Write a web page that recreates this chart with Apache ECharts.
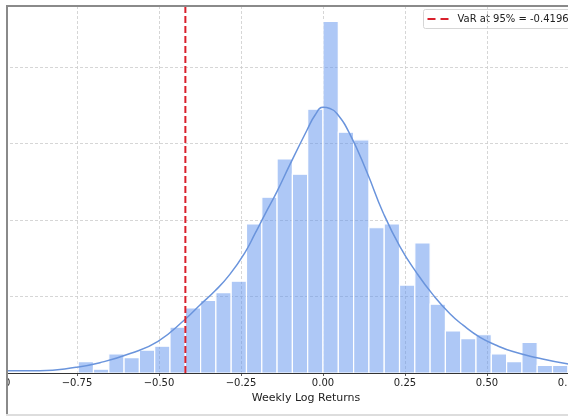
<!DOCTYPE html>
<html>
<head>
<meta charset="utf-8">
<script src="https://cdn.jsdelivr.net/npm/echarts@6/dist/echarts.min.js"></script>
<style>
  html, body { margin: 0; padding: 0; background: #fff; }
  #chart { width: 568px; height: 416px; }
</style>
</head>
<body>
<div id="chart"></div>
<script>
// Histogram bin edges (weekly log return) and counts per bin
const binEdges = [
  -0.7464, -0.6998, -0.6531, -0.6065, -0.5598, -0.5132, -0.4665, -0.4199,
  -0.3732, -0.3266, -0.2799, -0.2333, -0.1866, -0.1400, -0.0933, -0.0467,
   0.0000,  0.0467,  0.0933,  0.1400,  0.1866,  0.2333,  0.2799,  0.3266,
   0.3732,  0.4199,  0.4665,  0.5132,  0.5598,  0.6065,  0.6531,  0.6998,
   0.7464
];
const binCounts = [
  3, 1, 5, 4, 6, 7, 12, 17, 19, 21, 24, 39, 46, 56, 52, 69,
  92, 63, 61, 38, 39, 23, 34, 18, 11, 9, 10, 5, 3, 8, 2, 2
];

// Kernel density estimate, scaled to counts
const kdeX = [
  -0.963, -0.863, -0.753, -0.680, -0.588, -0.503, -0.421, -0.375,
  -0.329, -0.284, -0.238, -0.207, -0.177, -0.140, -0.101, -0.049,
  -0.024, 0.000, 0.021, 0.043, 0.082, 0.134, 0.183, 0.235,
  0.287, 0.335, 0.387, 0.427, 0.479, 0.530, 0.579, 0.652, 0.744, 0.810
];
const kdeY = [
  0.6, 0.6, 1.5, 2.7, 5.1, 8.3, 14.0, 17.8,
  21.5, 25.8, 31.5, 36.5, 41.5, 47.5, 54.5, 63.5,
  67.5, 69.5, 69.2, 67.8, 62.5, 52.5, 42.0, 33.0,
  26.0, 20.5, 15.5, 12.5, 9.3, 7.2, 5.6, 4.0, 2.4, 1.7
];

// Value at risk threshold
const varLevel = -0.4196;
const varLabel = 'VaR at 95% = -0.4196';

// Axis settings
const xMin = -1.0, xMax = 1.0, xStep = 0.25;
const yMin = 0, yMax = 96, yStep = 20;
const xTitle = 'Weekly Log Returns';

const chart = echarts.init(document.getElementById('chart'), null, { renderer: 'canvas' });

const histData = binCounts.map((c, i) => [binEdges[i], binEdges[i + 1], c]);
const kdeData = kdeX.map((x, i) => [x, kdeY[i]]);

const gridDash = { type: [3, 2], color: '#cccccc', width: 0.8 };

chart.setOption({
  animation: false,
  backgroundColor: '#ffffff',
  grid: { left: -5, right: -83, top: 6, bottom: 43, outerBoundsMode: 'none', containLabel: false },
  xAxis: {
    type: 'value',
    min: xMin, max: xMax, interval: xStep,
    axisLine: { show: true, onZero: false, lineStyle: { color: '#333', width: 1 } },
    axisTick: { show: true, length: 3, lineStyle: { color: '#333', width: 0.8 } },
    axisLabel: {
      show: true, showMinLabel: true, showMaxLabel: true,
      color: '#222', fontFamily: 'DejaVu Sans', fontSize: 10, margin: 5,
      formatter: v => v.toFixed(2).replace('-', '\u2212')
    },
    splitLine: { show: true, lineStyle: gridDash }
  },
  yAxis: {
    type: 'value',
    min: yMin, max: yMax, interval: yStep,
    axisLine: { show: false },
    axisTick: { show: false },
    axisLabel: { show: false },
    splitLine: { show: true, lineStyle: gridDash }
  },
  series: [
    {
      type: 'custom',
      name: 'Histogram',
      data: histData,
      encode: { x: [0, 1], y: 2 },
      clip: true,
      z: 2,
      renderItem: function (params, api) {
        const top = api.coord([api.value(0), api.value(2)]);
        const base = api.coord([api.value(1), 0]);
        return {
          type: 'rect',
          shape: { x: top[0], y: top[1], width: base[0] - top[0], height: base[1] - top[1] },
          style: { fill: 'rgba(100,149,237,0.52)', stroke: '#ffffff', lineWidth: 1.2 }
        };
      }
    },
    {
      type: 'line',
      name: 'KDE',
      data: kdeData,
      smooth: 0.5,
      showSymbol: false,
      symbol: 'none',
      z: 4,
      lineStyle: { color: '#6a94dc', width: 1.5 }
    },
    {
      type: 'line',
      name: varLabel,
      data: [[varLevel, yMin], [varLevel, yMax]],
      showSymbol: false,
      symbol: 'none',
      z: 5,
      lineStyle: { color: '#d9202c', width: 2, type: [7, 3] }
    }
  ],
  graphic: [
    // legend box
    {
      type: 'group', left: 423, top: 9, z: 20,
      children: [
        { type: 'rect', shape: { x: 0, y: 0, width: 170, height: 19, r: 2 },
          style: { fill: 'rgba(255,255,255,0.9)', stroke: '#d6d6d6', lineWidth: 1 } },
        { type: 'line', shape: { x1: 4, y1: 9.5, x2: 25, y2: 9.5 },
          style: { stroke: '#d9202c', lineWidth: 2, lineDash: [8, 5] } },
        { type: 'text', x: 34, y: 9.5,
          style: { text: varLabel, font: '10px "DejaVu Sans"', fill: '#222', verticalAlign: 'middle' } }
      ]
    },
    // axis title
    { type: 'text', x: 306, y: 398, z: 20,
      style: { text: xTitle, font: '11px "DejaVu Sans"', fill: '#222', align: 'center', verticalAlign: 'middle' } },
    // outer frame
    { type: 'rect', shape: { x: 0, y: 0, width: 6, height: 416 }, style: { fill: '#ffffff' }, z: 30 },
    { type: 'rect', shape: { x: 0, y: 0, width: 568, height: 5 }, style: { fill: '#ffffff' }, z: 30 },
    { type: 'line', shape: { x1: 7, y1: 5, x2: 7, y2: 416 }, style: { stroke: '#8a8a8a', lineWidth: 2 }, z: 31 },
    { type: 'line', shape: { x1: 6, y1: 6, x2: 568, y2: 6 }, style: { stroke: '#8a8a8a', lineWidth: 2 }, z: 31 },
    { type: 'line', shape: { x1: 6, y1: 415, x2: 568, y2: 415 }, style: { stroke: '#dddddd', lineWidth: 2 }, z: 31 }
  ]
});
</script>
</body>
</html>
